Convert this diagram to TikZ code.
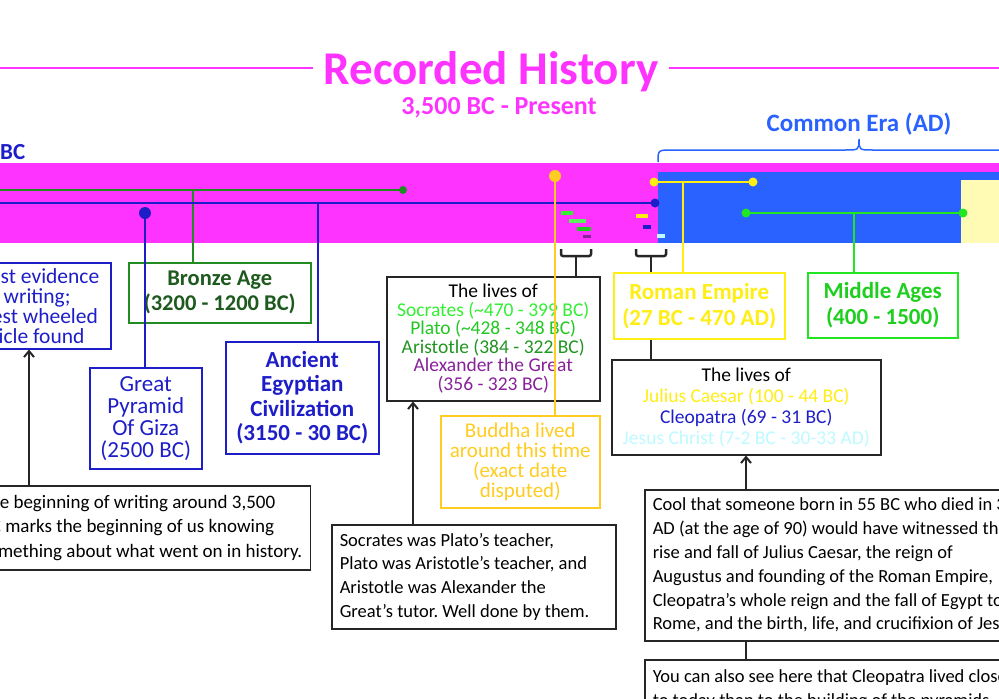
\documentclass[tikz,border=0pt]{standalone}
\usepackage{fontspec}
\setmainfont{Carlito}
\frenchspacing
\usetikzlibrary{arrows.meta, positioning}
\definecolor{histpink}{RGB}{255, 51, 255}
\definecolor{ceblue}{RGB}{41, 98, 255}
\definecolor{navyish}{RGB}{30, 30, 200}
\definecolor{bronze}{RGB}{34, 139, 34}
\definecolor{bronzetext}{RGB}{30, 90, 30}
\definecolor{gold}{RGB}{255, 204, 34}
\definecolor{romanyellow}{RGB}{255, 238, 20}
\definecolor{midgreen}{RGB}{34, 230, 34}
\definecolor{socgreen}{RGB}{51, 238, 51}
\definecolor{platogreen}{RGB}{34, 200, 34}
\definecolor{arisgreen}{RGB}{34, 150, 34}
\definecolor{alexpurple}{RGB}{136, 34, 153}
\definecolor{jesuscyan}{RGB}{190, 250, 255}
\definecolor{cream}{RGB}{255, 250, 180}
\tikzset{
  eventbox/.style={rectangle, draw=#1, fill=white, line width=1.5pt, anchor=north west, align=center, inner sep=2pt},
  notebox/.style={rectangle, draw=black!85, fill=white, line width=1.5pt, anchor=north west, align=flush left, inner sep=8pt, font=\fontsize{18.5}{23.8}\selectfont},
  link/.style={line width=2.2pt, draw=#1},
  dot/.style={circle, fill=#1, inner sep=0pt},
  pin/.style={-{Straight Barb[length=6pt,width=10pt]}, line width=2pt, black!85},
  bracket/.style={line width=2.5pt, black!85, rounded corners=2pt},
}
\begin{document}
\begin{tikzpicture}[x=1pt, y=-1pt]
\useasboundingbox (0,0) rectangle (999,699);
\clip (0,0) rectangle (999,699);
% title
\node[text=histpink, font=\fontsize{47}{50}\selectfont\bfseries, inner sep=10pt] (title) at (491,72) {Recorded History};
\node[text=histpink, font=\fontsize{26}{30}\selectfont\bfseries] (range) at (499,108) {3,500 BC - Present};
\draw[histpink, line width=1.5pt] (0,68) -- (title.west |- 0,68);
\draw[histpink, line width=1.5pt] (title.east |- 0,68) -- (999,68);
\node[anchor=west, text=navyish, font=\fontsize{23}{26}\selectfont\bfseries, inner sep=0pt] (bc) at (0,152) {BC};
\node[text=ceblue, font=\fontsize{25}{28}\selectfont\bfseries] (ce) at (859,124) {Common Era (AD)};
\draw[ceblue, line width=1.5pt] (658,162) .. controls (658,150) .. (672,150) -- (845,150) .. controls (859,150) .. (859,139) .. controls (859,150) .. (873,150) -- (999,150);
% bars
\fill[histpink] (0,163) rectangle (999,243);
\fill[ceblue] (658,172) rectangle (999,243);
\fill[cream] (961,180) rectangle (999,243);
% small life bars
\fill[socgreen] (561,211) rectangle (573,215);
\fill[socgreen!80] (569,219) rectangle (586,223);
\fill[platogreen] (577,227) rectangle (591,231);
\fill[alexpurple] (583,235) rectangle (591,238);
\fill[romanyellow] (636,214) rectangle (648,218);
\fill[navyish] (643,225) rectangle (651,229);
\fill[jesuscyan] (657,234) rectangle (665,238);
% event boxes
\node[eventbox=navyish, text=navyish, font=\fontsize{21.5}{20}\selectfont, minimum width=170pt, minimum height=86pt] (writing) at (-60,262) {Earliest evidence\\of writing;\\earliest wheeled\\vehicle found};
\node[eventbox=bronze, text=bronzetext, font=\fontsize{22.5}{25}\selectfont\bfseries, minimum width=182pt, minimum height=60pt] (bronze) at (128,262) {Bronze Age\\(3200 - 1200 BC)};
\node[eventbox=navyish, text=navyish, font=\fontsize{23}{22}\selectfont, minimum width=112pt, minimum height=101pt] (giza) at (89,367) {Great\\Pyramid\\Of Giza\\(2500 BC)};
\node[eventbox=navyish, text=navyish, font=\fontsize{23}{24.5}\selectfont\bfseries, minimum width=153pt, minimum height=112pt] (egypt) at (225,341) {Ancient\\Egyptian\\Civilization\\(3150 - 30 BC)};
\node[eventbox=black!85, font=\fontsize{19.5}{18.5}\selectfont, minimum width=213pt, minimum height=124pt] (greeks) at (386,276) {The lives of\\{\color{socgreen}Socrates (\textasciitilde470 - 399 BC)}\\{\color{platogreen}Plato (\textasciitilde428 - 348 BC)}\\{\color{arisgreen}Aristotle (384 - 322 BC)}\\{\color{alexpurple}Alexander the Great}\\{\color{alexpurple}(356 - 323 BC)}};
\node[eventbox=gold, text=gold, font=\fontsize{21}{20}\selectfont, minimum width=159pt, minimum height=92pt] (buddha) at (440,415) {Buddha lived\\around this time\\(exact date\\disputed)};
\node[eventbox=romanyellow, text=romanyellow, font=\fontsize{23}{26}\selectfont\bfseries, minimum width=171pt, minimum height=66pt] (roman) at (613,272) {Roman Empire\\(27 BC - 470 AD)};
\node[eventbox=midgreen, text=midgreen!90!black, font=\fontsize{23}{26}\selectfont\bfseries, minimum width=150pt, minimum height=65pt] (middle) at (807,272) {Middle Ages\\(400 - 1500)};
\node[eventbox=black!85, font=\fontsize{19.5}{21}\selectfont, minimum width=269pt, minimum height=95pt] (romans) at (611,359) {The lives of\\{\color{romanyellow}Julius Caesar (100 - 44 BC)}\\{\color{navyish}Cleopatra (69 - 31 BC)}\\{\color{jesuscyan}Jesus Christ (7-2 BC - 30-33 AD)}};
% notes
\node[notebox, anchor=north east, minimum height=84pt, font=\fontsize{19}{24.5}\selectfont] (writenote) at (311,485) {The beginning of writing around 3,500\\BC marks the beginning of us knowing\\something about what went on in history.};
\node[notebox, text width=268pt, minimum height=104pt] (teachnote) at (331,524) {Socrates was Plato’s teacher,\\Plato was Aristotle’s teacher, and\\Aristotle was Alexander the\\Great’s tutor. Well done by them.};
\node[notebox, minimum height=151pt] (coolnote) at (644,489) {Cool that someone born in 55 BC who died in 35\\AD (at the age of 90) would have witnessed the\\rise and fall of Julius Caesar, the reign of\\Augustus and founding of the Roman Empire,\\Cleopatra’s whole reign and the fall of Egypt to\\Rome, and the birth, life, and crucifixion of Jesus.};
\node[notebox, minimum height=60pt] (cleonote) at (644,659) {You can also see here that Cleopatra lived closer\\to today than to the building of the pyramids.};
% timeline lines
\coordinate (bronzeend) at (403,190);
\coordinate (egyptend) at (655,203);
\draw[link=bronze] (0,190) -- (bronzeend);
\node[dot=bronze, minimum size=8pt] at (bronzeend) {};
\draw[link=bronze] (193,190) -- (bronze.north -| 193,0);
\draw[link=navyish] (0,203) -- (egyptend);
\node[dot=navyish, minimum size=9pt] at (egyptend) {};
\draw[link=navyish] (318,203) -- (egypt.north -| 318,0);
\node[dot=navyish, minimum size=12pt] (gizadot) at (145,213) {};
\draw[link=navyish] (gizadot) -- (giza.north -| gizadot);
\node[dot=gold, minimum size=12pt] (buddhadot) at (555,176) {};
\draw[link=gold] (buddhadot) -- (buddha.north -| buddhadot);
\coordinate (romanstart) at (654,182);
\coordinate (romanend) at (753,182);
\draw[link=romanyellow] (romanstart) -- (romanend);
\draw[link=romanyellow] (683,182) -- (roman.north -| 683,0);
\node[dot=romanyellow, minimum size=9pt] at (romanstart) {};
\node[dot=romanyellow, minimum size=9pt] at (romanend) {};
\coordinate (midstart) at (746,213);
\coordinate (midend) at (963,213);
\draw[link=midgreen] (midstart) -- (midend);
\draw[link=midgreen] (854,213) -- (middle.north -| 854,0);
\node[dot=midgreen, minimum size=9pt] at (midstart) {};
\node[dot=midgreen, minimum size=9pt] at (midend) {};
% brackets
\draw[bracket] (561,249) -- (561,256) -- (591,256) -- (591,249);
\draw[bracket] (576,256) -- (greeks.north -| 576,0);
\draw[bracket] (636,249) -- (636,256) -- (666,256) -- (666,249);
\draw[bracket] (651,256) -- (roman.north -| 651,0);
\draw[line width=2pt, black!85] (roman.south -| 651,0) -- (romans.north -| 651,0);
% pins
\draw[pin] (writenote.north -| 29,0) -- (writing.south -| 29,0);
\draw[pin] (teachnote.north -| 413,0) -- (greeks.south -| 413,0);
\draw[pin] (coolnote.north -| 746,0) -- (romans.south -| 746,0);
\draw[line width=2pt, black!85] (coolnote.south -| 746,0) -- (cleonote.north -| 746,0);
\end{tikzpicture}
\end{document}
